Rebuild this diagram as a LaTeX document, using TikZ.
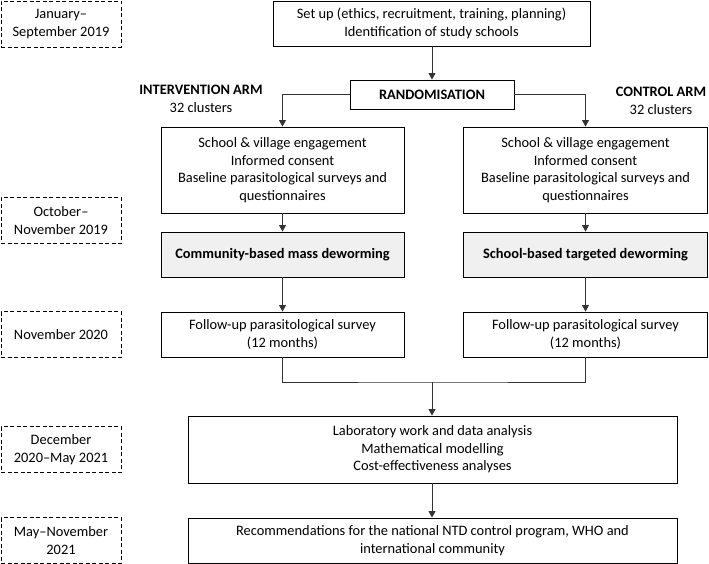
\documentclass[tikz,border=0pt]{standalone}
\usepackage{fontspec}
\setmainfont{Carlito}
\usetikzlibrary{arrows.meta}
\usepackage{xcolor}

\begin{document}
\begin{tikzpicture}[x=1pt, y=-1pt,
  font=\fontsize{14.4}{17.5}\selectfont,
  box/.style={draw, line width=0.9pt, align=center, inner sep=0pt},
  shaded/.style={box, fill=gray!12, font=\fontsize{14.4}{17.5}\selectfont\bfseries},
  datebox/.style={draw, dashed, dash pattern=on 4pt off 2.5pt, line width=0.8pt, align=center,
    inner sep=0pt, minimum width=120pt, minimum height=46pt},
  arr/.style={-{Triangle[length=6.5pt, width=7pt]}, line width=0.8pt, draw=black!80}]
  \useasboundingbox (0,0) rectangle (709,564);

  % Left: time line (dashed)
  \node[datebox] (d1) at (61,24)    {January--\\September 2019};
  \node[datebox] (d2) at (61,220.5) {October--\\November 2019};
  \node[datebox] (d3) at (61,334.5) {November 2020};
  \node[datebox] (d4) at (61,449.5) {December\\2020--May 2021};
  \node[datebox] (d5) at (61,540.5) {May--November\\2021};

  % Top: set up and randomisation
  \node[box, minimum width=317pt, minimum height=45pt] (setup) at (431.5,23.5)
    {Set up (ethics, recruitment, training, planning)\\Identification of study schools};
  \node[box, minimum width=164pt, minimum height=29pt, font=\fontsize{14.4}{17.5}\selectfont\bfseries] (rand) at (432,94.5) {RANDOMISATION};

  \node[align=center] (armL) at (201,99) {\textbf{INTERVENTION ARM}\\32 clusters};
  \node[align=center] (armR) at (661,101) {\textbf{CONTROL ARM}\\32 clusters};

  % Intervention arm
  \node[box, minimum width=243pt, minimum height=86pt] (consL) at (282.5,170)
    {School \& village engagement\\Informed consent\\Baseline parasitological surveys and\\questionnaires};
  \node[shaded, minimum width=243pt, minimum height=45pt] (dewL) at (282.5,254.5) {Community-based mass deworming};
  \node[box, minimum width=243pt, minimum height=45pt] (folL) at (282.5,334.5)
    {Follow-up parasitological survey\\(12 months)};

  % Control arm
  \node[box, minimum width=244pt, minimum height=86pt] (consR) at (585.5,170)
    {School \& village engagement\\Informed consent\\Baseline parasitological surveys and\\questionnaires};
  \node[shaded, minimum width=244pt, minimum height=45pt] (dewR) at (585.5,254.5) {School-based targeted deworming};
  \node[box, minimum width=244pt, minimum height=45pt] (folR) at (585.5,334.5)
    {Follow-up parasitological survey\\(12 months)};

  % Bottom: analysis and recommendations
  \coordinate (merge) at (432,382);
  \node[box, minimum width=489pt, minimum height=67pt] (lab) at (432.5,449.5)
    {Laboratory work and data analysis\\Mathematical modelling\\Cost-effectiveness analyses};
  \node[box, minimum width=489pt, minimum height=45pt] (rec) at (432.5,540.5)
    {Recommendations for the national NTD control program, WHO and\\international community};

  \draw[arr] (setup.south -| rand.north) -- (rand.north);
  \draw[arr] (rand.west) -| (consL.north);
  \draw[arr] (rand.east) -| (consR.north);
  \draw[arr] (consL) -- (dewL);
  \draw[arr] (dewL) -- (folL);
  \draw[arr] (consR) -- (dewR);
  \draw[arr] (dewR) -- (folR);
  \draw[line width=0.8pt, draw=black!80] (folL.south) |- (merge) -| (folR.south);
  \draw[arr] (merge) -- (merge |- lab.north);
  \draw[arr] (lab.south -| merge) -- (rec.north -| merge);
\end{tikzpicture}
\end{document}
